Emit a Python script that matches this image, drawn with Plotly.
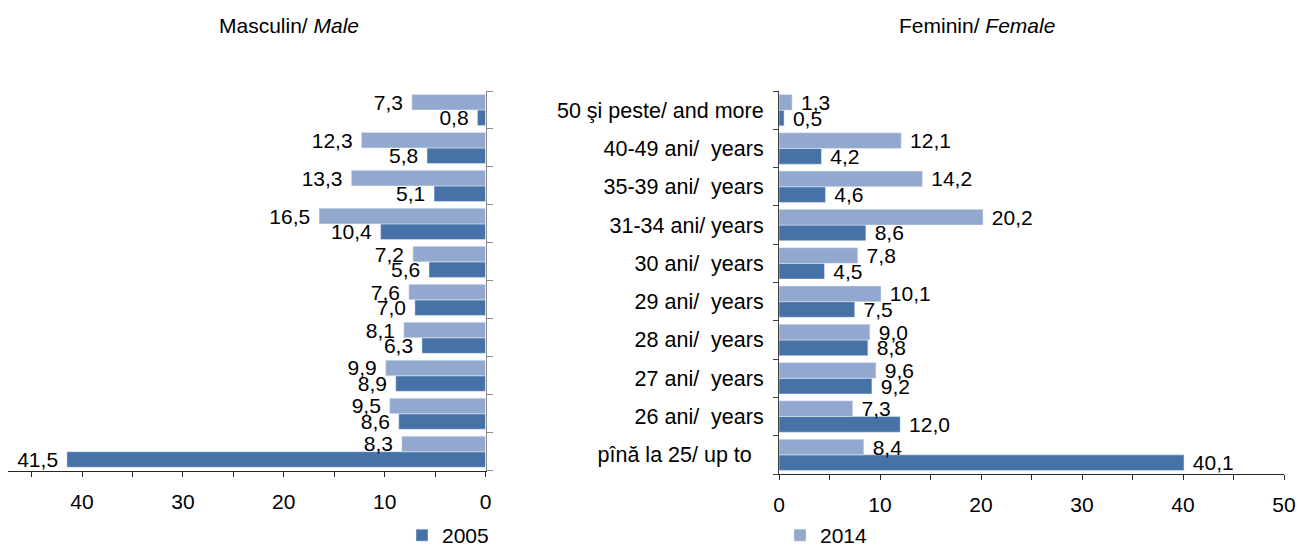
import plotly.graph_objects as go

# Age groups, bottom to top
age_groups = [
    "pînă la 25/ up to\u00a0\u00a0",
    "26 ani/  years",
    "27 ani/  years",
    "28 ani/  years",
    "29 ani/  years",
    "30 ani/  years",
    "31-34 ani/ years",
    "35-39 ani/  years",
    "40-49 ani/  years",
    "50 şi peste/ and more",
]

male_2005 = [41.5, 8.6, 8.9, 6.3, 7.0, 5.6, 10.4, 5.1, 5.8, 0.8]
male_2014 = [8.3, 9.5, 9.9, 8.1, 7.6, 7.2, 16.5, 13.3, 12.3, 7.3]
female_2005 = [40.1, 12.0, 9.2, 8.8, 7.5, 4.5, 8.6, 4.6, 4.2, 0.5]
female_2014 = [8.4, 7.3, 9.6, 9.0, 10.1, 7.8, 20.2, 14.2, 12.1, 1.3]

C2005 = "#4672A8"
C2014 = "#93A8CF"
FONT = "Liberation Sans, Arial, sans-serif"
FS = 21
W, H = 1298, 548


def fmt(vals):
    return [f"{v:.1f}".replace(".", ",") for v in vals]


def px_x(p):
    return p / W


def px_y(p):
    return 1 - p / H


fig = go.Figure()

label_font = dict(family=FONT, size=FS, color="#000000")

# Male panel (bars grow to the left)
fig.add_trace(go.Bar(
    y=age_groups, x=male_2005, orientation="h", name="2005",
    marker_color=C2005, legendgroup="2005", showlegend=True,
    text=[t + "\u00a0" for t in fmt(male_2005)], textposition="outside",
    textfont=label_font, constraintext="none", cliponaxis=False,
    xaxis="x", yaxis="y",
))
fig.add_trace(go.Bar(
    y=age_groups, x=male_2014, orientation="h", name="2014",
    marker_color=C2014, legendgroup="2014", showlegend=True,
    text=[t + "\u00a0" for t in fmt(male_2014)], textposition="outside",
    textfont=label_font, constraintext="none", cliponaxis=False,
    xaxis="x", yaxis="y",
))

# Female panel
fig.add_trace(go.Bar(
    y=age_groups, x=female_2005, orientation="h", name="2005",
    marker_color=C2005, legendgroup="2005", showlegend=False,
    text=["\u00a0" + t for t in fmt(female_2005)], textposition="outside",
    textfont=label_font, constraintext="none", cliponaxis=False,
    xaxis="x2", yaxis="y2",
))
fig.add_trace(go.Bar(
    y=age_groups, x=female_2014, orientation="h", name="2014",
    marker_color=C2014, legendgroup="2014", showlegend=False,
    text=["\u00a0" + t for t in fmt(female_2014)], textposition="outside",
    textfont=label_font, constraintext="none", cliponaxis=False,
    xaxis="x2", yaxis="y2",
))

tick_font = dict(family=FONT, size=FS, color="#000000")

fig.update_layout(
    width=W, height=H,
    margin=dict(l=0, r=0, t=0, b=0, autoexpand=False),
    paper_bgcolor="white", plot_bgcolor="white",
    barmode="group", bargap=0.18, bargroupgap=0,
    font=dict(family=FONT, size=FS, color="#000000"),
    xaxis=dict(
        domain=[px_x(8), px_x(485.5)], range=[47.34, 0],
        anchor="y", dtick=10, tick0=0,
        showgrid=False, zeroline=False,
        showline=True, linecolor="#262626", linewidth=1,
        ticks="outside", ticklen=5, tickcolor="#262626",
        minor=dict(dtick=5, ticks="outside", ticklen=5, tickcolor="#262626"),
        tickfont=tick_font, ticklabelstandoff=7,
    ),
    yaxis=dict(
        domain=[px_y(470.7), px_y(91)], anchor="x", side="right",
        type="category", categoryorder="array", categoryarray=age_groups,
        showticklabels=False, showgrid=False, zeroline=False,
        showline=True, linecolor="#8c8c8c", linewidth=1,
        ticks="outside", ticklen=6, tickcolor="#8c8c8c", tickson="boundaries",
    ),
    xaxis2=dict(
        domain=[px_x(779), px_x(1284)], range=[0, 50],
        anchor="y2", dtick=10, tick0=0,
        showgrid=False, zeroline=False,
        showline=True, linecolor="#262626", linewidth=1,
        ticks="outside", ticklen=5, tickcolor="#262626",
        minor=dict(dtick=5, ticks="outside", ticklen=5, tickcolor="#262626"),
        tickfont=tick_font, ticklabelstandoff=7,
    ),
    yaxis2=dict(
        domain=[px_y(474), px_y(91)], anchor="x2", side="left",
        type="category", categoryorder="array", categoryarray=age_groups,
        showgrid=False, zeroline=False,
        showline=True, linecolor="#404040", linewidth=1,
        ticks="outside", ticklen=5, tickcolor="#404040", tickson="boundaries",
        tickfont=dict(family=FONT, size=21.5, color="#000000"),
        ticklabelstandoff=10,
    ),
    legend=dict(
        orientation="h", x=px_x(402), xanchor="left",
        y=-8 / H, yanchor="bottom",
        font=dict(family=FONT, size=FS, color="#000000"),
        entrywidth=333, entrywidthmode="pixels",
        bgcolor="rgba(0,0,0,0)", borderwidth=0,
        itemclick=False, itemdoubleclick=False,
    ),
    annotations=[
        dict(text="Masculin/ <i>Male</i>", x=px_x(289), y=px_y(25),
             xref="paper", yref="paper", showarrow=False,
             xanchor="center", yanchor="middle",
             font=dict(family=FONT, size=FS, color="#000000")),
        dict(text="Feminin/ <i>Female</i>", x=px_x(976.5), y=px_y(25),
             xref="paper", yref="paper", showarrow=False,
             xanchor="center", yanchor="middle",
             font=dict(family=FONT, size=FS, color="#000000")),
    ],
)

fig.write_html("out.html")
